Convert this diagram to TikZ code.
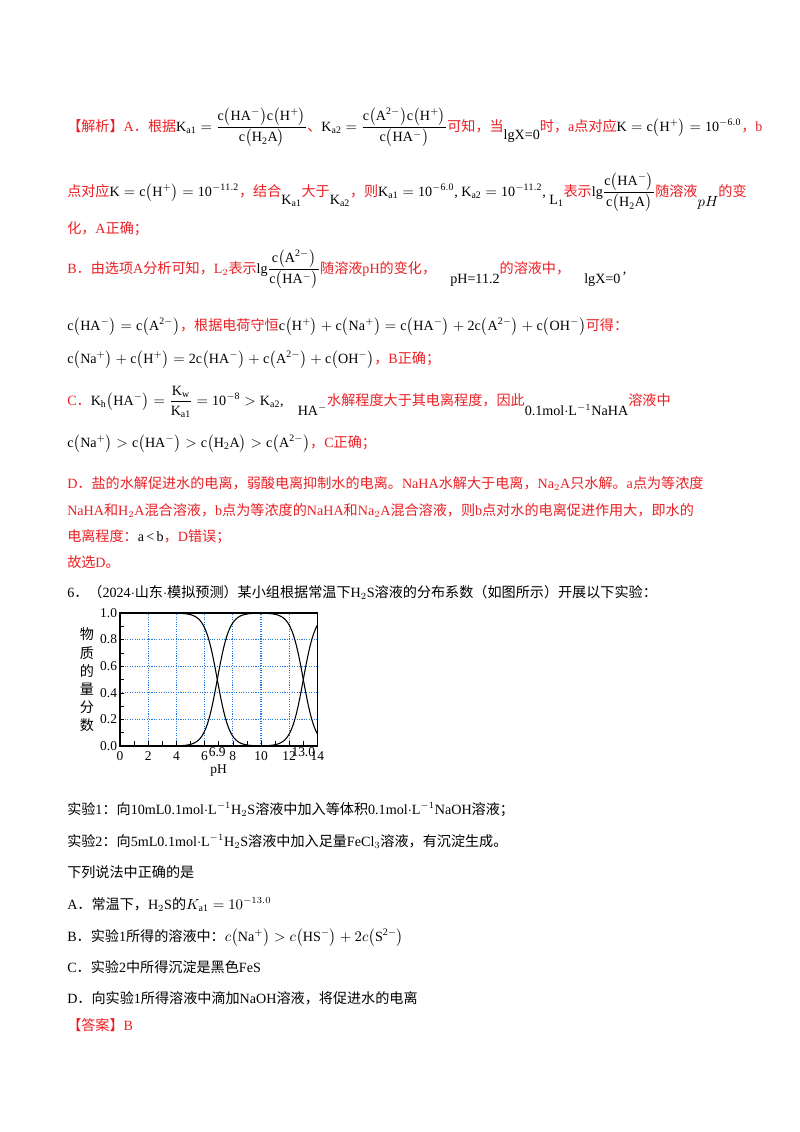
\documentclass[tikz,border=0pt]{standalone}
\usepackage{fontspec}
\usepackage{amsmath}
\setmainfont{Liberation Serif}
\newfontfamily\cjk{Noto Sans CJK SC}
\definecolor{ared}{RGB}{235,30,35}
\definecolor{gblue}{RGB}{30,120,230}
\newcommand\Z[1]{{\cjk #1}}
\newcommand\RR[1]{\textcolor{ared}{#1}}
\newcommand\RZ[1]{\textcolor{ared}{\cjk #1}}
\newcommand\mr[1]{\mathrm{#1}}
\tikzset{ln/.style={anchor=base west,inner sep=0pt,font=\fontsize{10.5}{12}\selectfont},
 tk/.style={font=\fontsize{10}{12}\selectfont,inner sep=1pt}}
\begin{document}
\begin{tikzpicture}[x=0.7441pt,y=-0.7441pt]
\useasboundingbox (0,0) rectangle (800,1132);
\node[ln] (t1) at (67,131) {\RZ{【解析】}\RR{A}\RZ{．根据}$\mr{K_{a1}}=\dfrac{\mr{c\big(HA^-\big)c\big(H^+\big)}}{\mr{c\big(H_2A\big)}}$\RZ{、}$\mr{K_{a2}}=\dfrac{\mr{c\big(A^{2-}\big)c\big(H^+\big)}}{\mr{c\big(HA^-\big)}}$\RZ{可知，当}\raisebox{-6pt}{lgX=0}\RZ{时，}\RR{a}\RZ{点对应}$\mr{K=c\big(H^+\big)=10^{-6.0}}$\RZ{，}\RR{b}};
\node[ln] (t2) at (67,196) {\RZ{点对应}$\mr{K=c\big(H^+\big)=10^{-11.2}}$\RZ{，结合}\raisebox{-6pt}{$\mr{K_{a1}}$}\RZ{大于}\raisebox{-6pt}{$\mr{K_{a2}}$}\RZ{，则}$\mr{K_{a1}=10^{-6.0}}$, $\mr{K_{a2}=10^{-11.2}}$,\ \raisebox{-6pt}{$\mr{L_1}$}\RZ{表示}$\mr{lg}\dfrac{\mr{c\big(HA^-\big)}}{\mr{c\big(H_2A\big)}}$\RZ{随溶液}\raisebox{-8pt}{$pH$}\RZ{的变}};
\node[ln] (t3) at (67,233) {\RZ{化，}\RR{A}\RZ{正确；}};
\node[ln] (t4) at (67,273) {\RR{B}\RZ{．由选项}\RR{A}\RZ{分析可知，}\RR{L$_2$}\RZ{表示}$\mr{lg}\dfrac{\mr{c\big(A^{2-}\big)}}{\mr{c\big(HA^-\big)}}$\RZ{随溶液}\RR{pH}\RZ{的变化，}\quad\raisebox{-8pt}{pH=11.2}\RZ{的溶液中，}\quad\raisebox{-8pt}{lgX=0}\,,};
\node[ln] (t5) at (67,330) {$\mr{c\big(HA^-\big)=c\big(A^{2-}\big)}$\RZ{，根据电荷守恒}$\mr{c\big(H^+\big)+c\big(Na^+\big)=c\big(HA^-\big)+2c\big(A^{2-}\big)+c\big(OH^-\big)}$\RZ{可得：}};
\node[ln] (t6) at (67,363) {$\mr{c\big(Na^+\big)+c\big(H^+\big)=2c\big(HA^-\big)+c\big(A^{2-}\big)+c\big(OH^-\big)}$\RZ{，}\RR{B}\RZ{正确；}};
\node[ln] (t7) at (67,405) {\RR{C}\RZ{．}$\mr{K_h\big(HA^-\big)=\dfrac{K_w}{K_{a1}}=10^{-8}>K_{a2}}$,\quad\raisebox{-8pt}{HA$^-$}\RZ{水解程度大于其电离程度，因此}\raisebox{-8pt}{0.1mol$\cdot$L$^{-1}$NaHA}\RZ{溶液中}};
\node[ln] (t8) at (67,447) {$\mr{c\big(Na^+\big)>c\big(HA^-\big)>c\big(H_2A\big)>c\big(A^{2-}\big)}$\RZ{，}\RR{C}\RZ{正确；}};
\node[ln] (t9) at (67,488) {\RR{D}\RZ{．盐的水解促进水的电离，弱酸电离抑制水的电离。}\RR{NaHA}\RZ{水解大于电离，}\RR{Na$_2$A}\RZ{只水解。}\RR{a}\RZ{点为等浓度}};
\node[ln] (t10) at (67,515) {\RR{NaHA}\RZ{和}\RR{H$_2$A}\RZ{混合溶液，}\RR{b}\RZ{点为等浓度的}\RR{NaHA}\RZ{和}\RR{Na$_2$A}\RZ{混合溶液，则}\RR{b}\RZ{点对水的电离促进作用大，即水的}};
\node[ln] (t11) at (67,541) {\RZ{电离程度：}a\,<\,b\RZ{，}\RR{D}\RZ{错误；}};
\node[ln] (t12) at (67,567) {\RZ{故选}\RR{D}\RZ{。}};
\node[ln] (t13) at (67,597) {6\Z{．（}2024$\cdot$\Z{山东}$\cdot$\Z{模拟预测）某小组根据常温下}H$_2$S\Z{溶液的分布系数（如图所示）开展以下实验：}};
% plot
\begin{scope}[shift={(120,746)},xscale=14.1,yscale=-133]
 \foreach \x in {2,4,...,12} \draw[gblue,densely dotted,thick] (\x,0) -- (\x,1);
 \foreach \y in {0.2,0.4,0.6,0.8} \draw[gblue,densely dotted,thick] (0,\y) -- (14,\y);
 \foreach \x in {1,...,13} \draw (\x,0) -- (\x,0.035);
 \foreach \y in {0.1,0.2,...,0.95} \draw (0,\y) -- (0.25,\y);
 \begin{scope}
 \clip (0,0) rectangle (14,1);
 \draw[thick,smooth,samples=60,domain=3.5:10.3] plot (\x,{1/(1+exp(2.3026*(\x-6.9)))});
 \draw[thick,smooth,samples=60,domain=3.5:10] plot (\x,{1/(1+exp(2.3026*(6.9-\x)))});
 \draw[thick,smooth,samples=60,domain=9.8:14] plot (\x,{1/(1+exp(2.3026*(\x-13)))});
 \draw[thick,smooth,samples=60,domain=9.6:14] plot (\x,{1/(1+exp(2.3026*(13-\x)))});
 \end{scope}
 \draw[thick] (0,0) rectangle (14,1);
 \foreach \y in {0.0,0.2,0.4,0.6,0.8,1.0} \node[tk,anchor=east] (yl\y) at (-0.1,\y) {\y};
 \foreach \x in {0,2,4,6,8,10,12,14} \node[tk,anchor=north] (xl\x) at (\x,-0.03) {\x};
 \node[tk,anchor=north] (x69) at (6.9,0.0) {6.9};
 \node[tk,anchor=north] (x13) at (13.0,0.0) {13.0};
 \node[tk,anchor=north] (ph) at (7,-0.13) {pH};
\end{scope}
\node[tk,align=center,font=\cjk\fontsize{10.5}{13.5}\selectfont] (ylab) at (87,680) {物\\质\\的\\量\\分\\数};
\node[ln] (t14) at (67,814) {\Z{实验}1\Z{：向}10mL0.1mol$\cdot$L$^{-1}$H$_2$S\Z{溶液中加入等体积}0.1mol$\cdot$L$^{-1}$NaOH\Z{溶液；}};
\node[ln] (t15) at (67,846) {\Z{实验}2\Z{：向}5mL0.1mol$\cdot$L$^{-1}$H$_2$S\Z{溶液中加入足量}FeCl$_3$\Z{溶液，有沉淀生成。}};
\node[ln] (t16) at (67,877) {\Z{下列说法中正确的是}};
\node[ln] (t17) at (67,909) {A\Z{．常温下，}H$_2$S\Z{的}$K_{\mr{a1}}=10^{-13.0}$};
\node[ln] (t18) at (67,941) {B\Z{．实验}1\Z{所得的溶液中：}$c\big(\mr{Na^+}\big)>c\big(\mr{HS^-}\big)+2c\big(\mr{S^{2-}}\big)$};
\node[ln] (t19) at (67,972) {C\Z{．实验}2\Z{中所得沉淀是黑色}FeS};
\node[ln] (t20) at (67,1003) {D\Z{．向实验}1\Z{所得溶液中滴加}NaOH\Z{溶液，将促进水的电离}};
\node[ln] (t21) at (67,1030) {\RZ{【答案】}\RR{B}};
\end{tikzpicture}
\end{document}
